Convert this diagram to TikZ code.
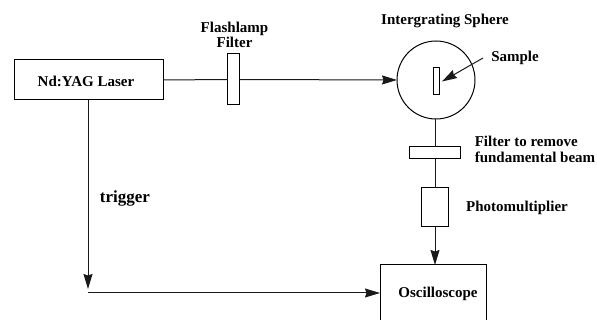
\documentclass[tikz,border=0pt]{standalone}
\usepackage{fontspec}
\setmainfont{Liberation Serif}
\usetikzlibrary{arrows.meta}
\tikzset{
  x=1pt,y=-1pt,
  part/.style={draw,line width=1pt,inner sep=0pt,outer sep=0pt,rectangle},
  lab/.style={font=\bfseries\fontsize{15}{15.5}\selectfont,inner sep=0pt,align=center,text=black},
  conn/.style={line width=1pt,black!90},
  arr/.style={conn,-{Stealth[length=15pt,width=9pt,inset=1.5pt]}}
}
\begin{document}
\begin{tikzpicture}
\useasboundingbox (0,0) rectangle (597,320);
\node[part,minimum width=149pt,minimum height=40pt] (laser) at (88.5,80) {};
\node[lab] (laserlab) at (86,81) {Nd:YAG Laser};
\node[part,minimum width=12pt,minimum height=51pt] (ffilter) at (233.5,79.5) {};
\node[lab] (ffiltlab) at (234.5,35) {Flashlamp\\Filter};
\node[draw,circle,line width=1pt,minimum size=78pt,inner sep=0pt,outer sep=0pt] (sphere) at (436,80) {};
\node[lab] (spherelab) at (445,21) {Intergrating Sphere};
\node[part,minimum width=5.5pt,minimum height=27pt] (sample) at (436.7,81) {};
\node[lab] (samplelab) at (515,58) {Sample};
\coordinate (samplefrom) at (483,58);
\coordinate (sampleto) at (442,81.5);
\node[part,minimum width=51pt,minimum height=12pt] (rfilter) at (435,153) {};
\node[lab,align=left] (rfiltlab) at (535,149.5) {Filter to remove\\fundamental beam};
\node[part,minimum width=27pt,minimum height=39pt] (pmt) at (435,207.5) {};
\node[lab] (pmtlab) at (517,208) {Photomultiplier};
\node[part,minimum width=106pt,minimum height=70pt] (scope) at (433,300) {};
\node[lab] (scopelab) at (438,294) {Oscilloscope};
\node[lab,font=\bfseries\fontsize{17}{18}\selectfont] (triglab) at (125,198) {trigger};
\coordinate (trigend) at (88,289);
\coordinate (trigstart) at (88,293);
\draw[conn] (laser.east) -- (ffilter.west);
\draw[arr] (ffilter.east) -- (sphere.west);
\draw[arr] (samplefrom) -- (sampleto);
\draw[conn] (sphere.south -| rfilter) -- (rfilter.north);
\draw[conn] (rfilter.south) -- (pmt.north);
\draw[arr] (pmt.south) -- (pmt.south |- scope.north);
\draw[arr] (laser.south -| trigend) -- (trigend);
\draw[arr] (trigstart) -- (trigstart -| scope.west);
\end{tikzpicture}
\end{document}
